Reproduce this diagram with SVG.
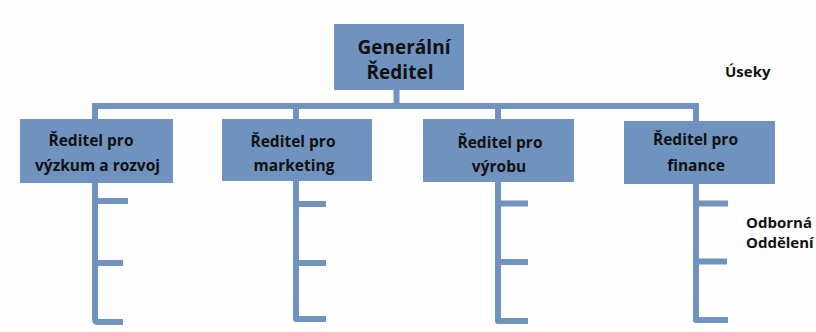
<svg xmlns="http://www.w3.org/2000/svg" width="816" height="332" viewBox="0 0 816 332">
<style>
.box{fill:#7092BE;}
.ln{fill:none;stroke:#7092BE;stroke-width:6;stroke-linejoin:round;}
text{font-family:"Open Sans",Lato,"Liberation Sans",sans-serif;font-weight:bold;font-size:15.5px;fill:#111;}
.m{text-anchor:middle;}
.t{font-size:19px;}
.l{font-size:15px;}
</style>
<rect width="816" height="332" fill="#fdfefd"/>
<g id="connectors">
<path class="ln" d="M396.5,90 V106 M92,106 H699 M95,106 V120 M296,106 V120 M498,106 V120 M696,106 V122"/>
<path class="ln" d="M95,183 V319 Q95,322 98,322 H123 M95,201 H128 M95,263 H123"/>
<path class="ln" d="M296,181 V319 H326 M296,204 H326 M296,263 H326"/>
<path class="ln" d="M498,182 V321 H528 M498,203.5 H528 M498,262 H528"/>
<path class="ln" d="M696,184 V320 H728 M696,203.5 H728 M696,261.5 H727"/>
</g>
<g id="n-gen">
<rect class="box" x="334" y="24" width="130" height="66"/>
<text class="m t" x="404" y="54">Generální</text>
<text class="m t" x="400" y="79">Ředitel</text>
</g>
<g id="n-vyzkum">
<rect class="box" x="20" y="119" width="153" height="64"/>
<text class="m" x="91" y="146">Ředitel pro</text>
<text class="m" x="97.5" y="171">výzkum a rozvoj</text>
</g>
<g id="n-marketing">
<rect class="box" x="222" y="119" width="150" height="62"/>
<text class="m" x="293" y="147">Ředitel pro</text>
<text class="m" x="294" y="171">marketing</text>
</g>
<g id="n-vyroba">
<rect class="box" x="423" y="119" width="151" height="63"/>
<text class="m" x="500" y="148">Ředitel pro</text>
<text class="m" x="499" y="172">výrobu</text>
</g>
<g id="n-finance">
<rect class="box" x="624" y="121" width="151" height="63"/>
<text class="m" x="695.5" y="145">Ředitel pro</text>
<text class="m" x="696" y="171">finance</text>
</g>
<g id="labels">
<text class="l" x="725" y="77">Úseky</text>
<text class="l" x="746" y="228">Odborná</text>
<text class="l" x="746" y="248">Oddělení</text>
</g>
</svg>
